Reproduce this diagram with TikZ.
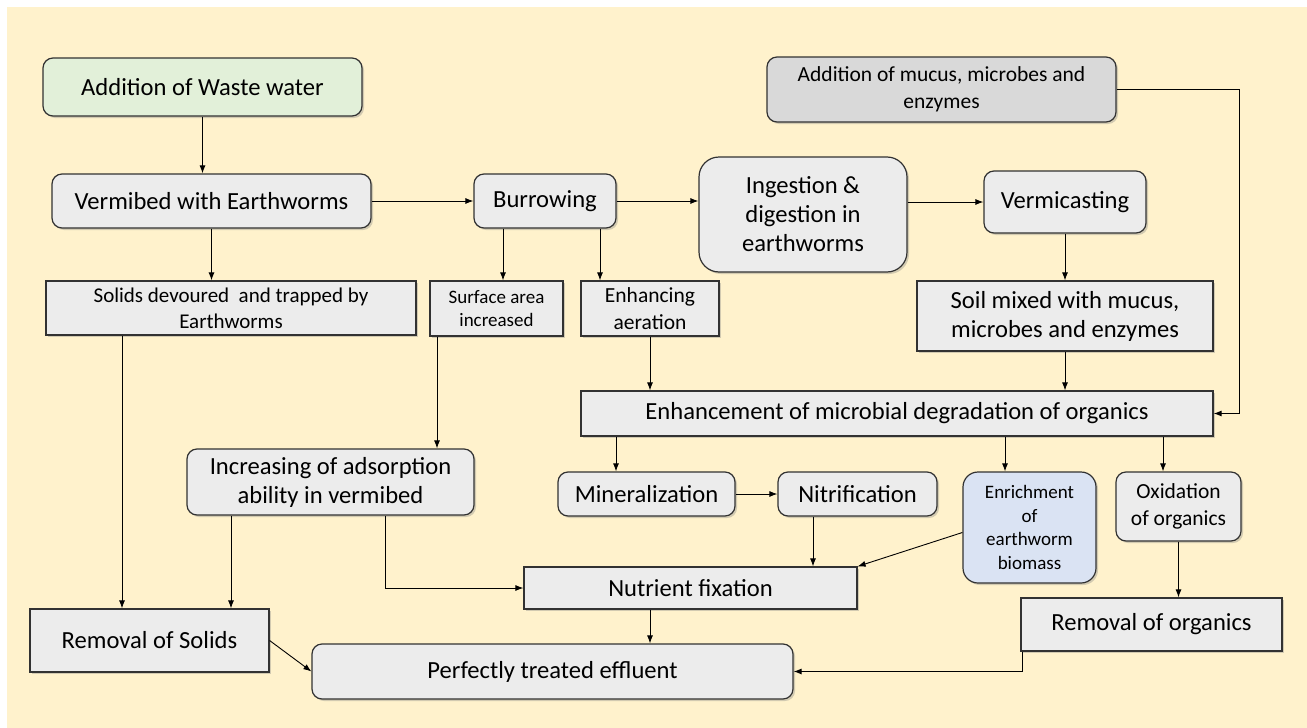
\documentclass[tikz,border=0pt]{standalone}
\usepackage{fontspec}
\setmainfont{Carlito}
\usepackage{tikz}
\usetikzlibrary{calc,arrows.meta,shadows}
\usepackage{xcolor}
\definecolor{bgpeach}{RGB}{255,242,204}
\definecolor{boxgray}{RGB}{236,236,236}
\definecolor{darkgray}{RGB}{217,217,217}
\definecolor{palegreen}{RGB}{226,240,217}
\definecolor{paleblue}{RGB}{218,227,243}
\definecolor{edge}{RGB}{50,50,50}

\tikzset{
  sbox/.style={draw=edge,line width=1.2pt,fill=boxgray,inner sep=0pt,align=center,
    drop shadow={shadow xshift=2pt,shadow yshift=-2pt,opacity=.35}},
  rbox/.style={sbox,rounded corners=10pt},
  arr/.style={draw=black,line width=0.9pt,-{Latex[length=8pt,width=6pt]}},
  big/.style={font=\fontsize{24.6}{29}\selectfont},
  mid/.style={font=\fontsize{21.5}{27}\selectfont},
  small/.style={font=\fontsize{19}{23.5}\selectfont}
}

\begin{document}
\begin{tikzpicture}[x=1pt,y=-1pt]
\useasboundingbox (0,0) rectangle (1307,728);
\fill[bgpeach] (7,7) rectangle (1307,728);

%% vertices
\node[rbox,big,fill=palegreen,minimum width=319pt,minimum height=58pt] (waste) at (202.5,87) {Addition of Waste water};
\node[rbox,big,minimum width=319pt,minimum height=54pt] (verm) at (211.5,201) {Vermibed with Earthworms};
\node[rbox,big,minimum width=142pt,minimum height=54pt] (burrow) at (545,201) {Burrowing};
\node[rbox,big,rounded corners=20pt,minimum width=208pt,minimum height=115pt] (ingest) at (803,214.5) {Ingestion \&\\digestion in\\earthworms};
\node[rbox,big,minimum width=162pt,minimum height=62pt] (vcast) at (1065,202) {Vermicasting};
\node[rbox,mid,fill=darkgray,minimum width=349pt,minimum height=65pt] (mucus) at (941.5,89.5) {Addition of mucus, microbes and\\enzymes};
\node[sbox,big,minimum width=296pt,minimum height=70pt] (soil) at (1065,316) {Soil mixed with mucus,\\microbes and enzymes};
\node[sbox,font=\fontsize{21}{26}\selectfont,minimum width=370pt,minimum height=54pt] (solids) at (231,308) {Solids devoured\ \ and trapped by\\Earthworms};
\node[sbox,small,minimum width=133pt,minimum height=55pt] (surface) at (496.5,308.5) {Surface area\\increased};
\node[sbox,mid,minimum width=138pt,minimum height=55pt] (aerat) at (650,308.5) {Enhancing\\aeration};
\node[sbox,big,minimum width=632pt,minimum height=45pt] (enhance) at (897,413.5) {Enhancement of microbial degradation of organics};
\node[rbox,big,minimum width=287pt,minimum height=66pt] (adsorb) at (330.5,482) {Increasing of adsorption\\ability in vermibed};
\node[rbox,big,minimum width=177pt,minimum height=44pt] (mineral) at (646.5,494) {Mineralization};
\node[rbox,big,minimum width=159pt,minimum height=44pt] (nitri) at (857.5,494) {Nitrification};
\node[rbox,small,rounded corners=15pt,fill=paleblue,minimum width=133pt,minimum height=111pt] (enrich) at (1029.5,527.5) {Enrichment\\of\\earthworm\\biomass};
\node[rbox,mid,minimum width=125pt,minimum height=69pt] (oxid) at (1178.5,506.5) {Oxidation\\of organics};
\node[sbox,big,minimum width=333pt,minimum height=42pt] (nutri) at (690.5,588) {Nutrient fixation};
\node[sbox,big,minimum width=261pt,minimum height=53pt] (remorg) at (1151.5,624.5) {Removal of organics};
\node[sbox,big,minimum width=239pt,minimum height=63pt] (remsol) at (149.5,640.5) {Removal of Solids};
\node[rbox,big,minimum width=481pt,minimum height=55pt] (effl) at (552.5,671.5) {Perfectly treated effluent};

\coordinate (mturn) at (1239,413.5);

%% edges
\draw[arr] (waste.south) -- (waste.south |- verm.north);
\draw[arr] (verm.east) -- (burrow.west);
\draw[arr] (burrow.east) -- (burrow.east -| ingest.west);
\draw[arr] (ingest.east |- vcast.west) -- (vcast.west);
\draw[arr] (verm.south) -- (verm.south |- solids.north);
\draw[arr] ($(burrow.south)+(-42,0)$) -- ($(burrow.south |- surface.north)+(-42,0)$);
\draw[arr] ($(burrow.south)+(55,0)$) -- ($(burrow.south |- aerat.north)+(55,0)$);
\draw[arr] (vcast.south) -- (vcast.south |- soil.north);
\draw[arr] (soil.south) -- (soil.south |- enhance.north);
\draw[arr] (aerat.south) -- (aerat.south |- enhance.north);
\draw[arr] (mucus.east) -| (mturn) -- (enhance.east);
\draw[arr] ($(surface.south)+(-59.5,0)$) -- ($(surface.south |- adsorb.north)+(-59.5,0)$);
\draw[arr] ($(solids.south)+(-109,0)$) -- ($(solids.south |- remsol.north)+(-109,0)$);
\draw[arr] ($(adsorb.south)+(-99.5,0)$) -- ($(adsorb.south |- remsol.north)+(-99.5,0)$);
\draw[arr] ($(adsorb.south)+(54.5,0)$) |- (nutri.west);
\draw[arr] ($(enhance.south -| mineral.north)+(-30.5,0)$) -- ($(mineral.north)+(-30.5,0)$);
\draw[arr] ($(enhance.south -| enrich.north)+(-24.5,0)$) -- ($(enrich.north)+(-24.5,0)$);
\draw[arr] ($(enhance.south -| oxid.north)+(-15.5,0)$) -- ($(oxid.north)+(-15.5,0)$);
\draw[arr] (mineral.east) -- (nitri.west);
\draw[arr] ($(nitri.south)+(-44.5,0)$) -- ($(nitri.south |- nutri.north)+(-44.5,0)$);
\draw[arr] ($(enrich.west)+(0,5)$) -- (nutri.north east);
\draw[arr] (oxid.south) -- (oxid.south |- remorg.north);
\draw[arr] ($(nutri.south)+(-40.5,0)$) -- ($(nutri.south |- effl.north)+(-40.5,0)$);
\draw[arr] (remsol.east) -- (effl.west);
\draw[arr] ($(remorg.south west)+(2,0)$) |- (effl.east);
\end{tikzpicture}
\end{document}
